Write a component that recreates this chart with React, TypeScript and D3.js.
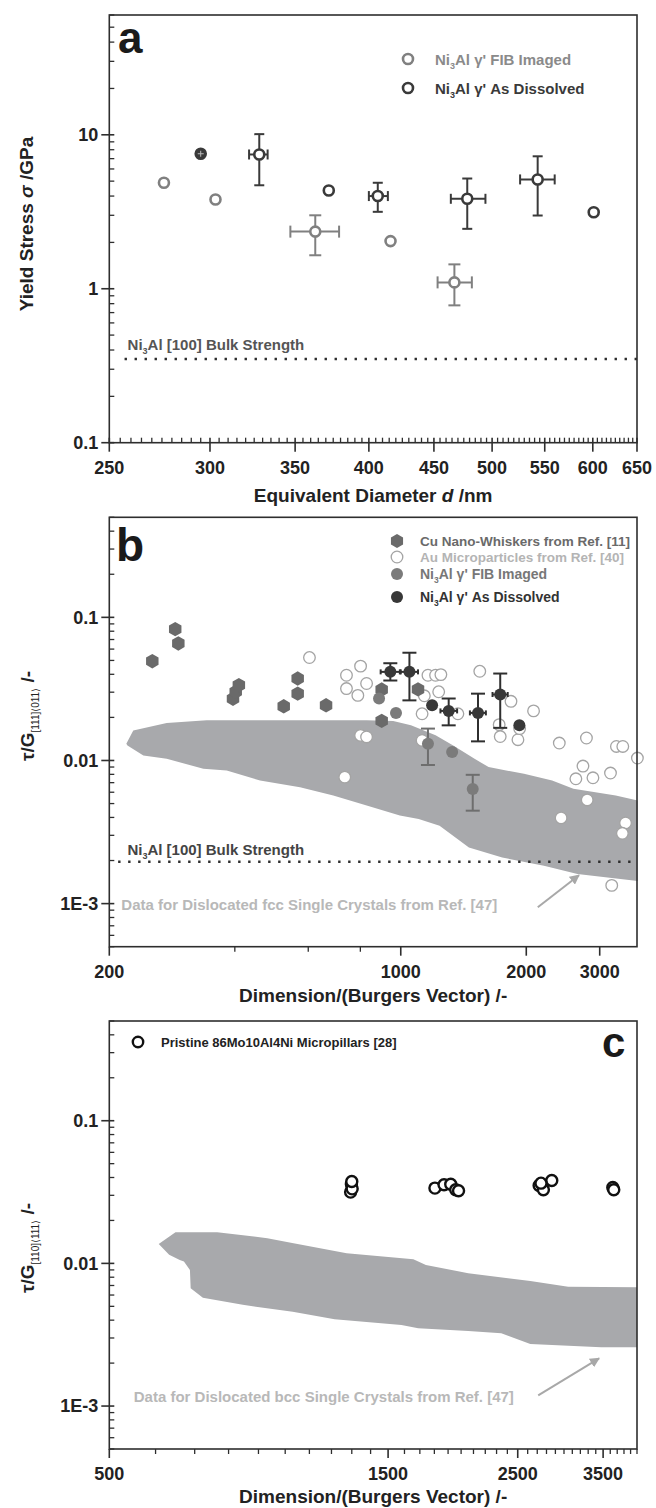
import React from "react";
import * as d3 from "d3";

const FONT = "'Liberation Sans', Arial, Helvetica, sans-serif";
const INK = "#2e2e2e";

// ---------- panel a: yield stress vs diameter ----------
const aXTicks = [250, 300, 350, 400, 450, 500, 550, 600, 650];
const aYTicks = [0.1, 1, 10];
const aYTickLabels = ["0.1", "1", "10"];

const aFibX = [276, 303, 363, 416, 467];
const aFibY = [4.88, 3.8, 2.35, 2.04, 1.1];
const aFibXLo = [null, null, 347, null, 453];
const aFibXHi = [null, null, 379, null, 482];
const aFibYLo = [null, null, 1.65, null, 0.78];
const aFibYHi = [null, null, 3.0, null, 1.44];

const aDisX = [295, 328, 372, 406.5, 478, 543, 601];
const aDisY = [7.53, 7.45, 4.35, 4.0, 3.84, 5.13, 3.14];
const aDisXLo = [null, 322, null, 400, 464, 526, null];
const aDisXHi = [null, 333, null, 414, 494, 560, null];
const aDisYLo = [null, 4.7, null, 3.16, 2.45, 2.99, null];
const aDisYHi = [null, 10.1, null, 4.88, 5.2, 7.25, null];

const aBulk = 0.35;

// ---------- panel b: fcc ----------
const bXTicks = [200, 1000, 2000, 3000];
const bXMinor = [400, 600, 800];
const bYTicks = [0.001, 0.01, 0.1];
const bYTickLabels = ["1E-3", "0.01", "0.1"];

const bCuX = [253.6, 287.8, 292.8, 396, 402, 409, 524, 566, 566, 662, 900, 900, 1100];
const bCuY = [0.0494, 0.0828, 0.0657, 0.027, 0.0302, 0.0336, 0.0239, 0.0374, 0.0293, 0.0243, 0.0313, 0.0189, 0.0314];

const bAuX = [604, 741, 801, 828, 741, 789, 801, 828, 734, 1162, 1212, 1248, 1233, 1139, 1125, 1125, 1371, 1547,
  1838, 1722, 1732, 1910, 1928, 2082, 2400, 2788, 2630, 2735, 2890, 3184, 3290, 3408, 3694, 2424, 2800, 3460, 3400, 3206];
const bAuY = [0.0524, 0.0394, 0.0456, 0.0345, 0.0318, 0.0285, 0.01497, 0.0146, 0.00765, 0.0394, 0.0394, 0.0398,
  0.0302, 0.0283, 0.0212, 0.0138, 0.0212, 0.042, 0.0259, 0.0178, 0.0147, 0.01397, 0.0167, 0.0222, 0.01324, 0.01436,
  0.00745, 0.00914, 0.00757, 0.00817, 0.01253, 0.01253, 0.0104, 0.00397, 0.0053, 0.00366, 0.0031, 0.00134];

const bFibX = [887, 974, 1162, 1328, 1488];
const bFibY = [0.0271, 0.0215, 0.0131, 0.01145, 0.00633];
const bFibYLo = [null, null, 0.0093, null, 0.00446];
const bFibYHi = [null, null, 0.0167, null, 0.00794];

const bDisX = [944, 1049, 1189, 1303, 1532, 1732, 1925];
const bDisY = [0.0416, 0.0416, 0.0243, 0.0222, 0.0215, 0.0289, 0.0176];
const bDisYLo = [0.0362, 0.0263, null, 0.0176, 0.0136, 0.0169, null];
const bDisYHi = [0.0478, 0.0566, null, 0.0271, 0.0293, 0.0405, null];
const bDisXLo = [895, 1000, null, 1245, 1465, 1660, null];
const bDisXHi = [995, 1100, null, 1365, 1600, 1805, null];

const bBandUpX = [219.7, 228.3, 274.6, 342.5, 828, 959, 1058, 1212, 1336, 1503, 1624, 1975, 2307, 2594, 3278, 3700];
const bBandUpY = [0.0131, 0.0162, 0.0183, 0.0191, 0.0191, 0.0189, 0.0176, 0.015, 0.01274, 0.01028, 0.00899, 0.00807,
  0.00724, 0.00634, 0.00569, 0.00525];
const bBandLoX = [221.1, 241.4, 274.6, 336.2, 382.5, 459.8, 573.3, 688.9, 828.4, 995, 1104, 1239, 1457, 1751, 2205, 2653, 3700];
const bBandLoY = [0.01274, 0.01084, 0.01028, 0.00875, 0.00851, 0.00724, 0.00651, 0.00569, 0.00484, 0.00412, 0.0039,
  0.0035, 0.00247, 0.0021, 0.00184, 0.00161, 0.00144];

const bBulk = 0.00196;

// ---------- panel c: bcc ----------
const cXTicks = [500, 1500, 2500, 3500];
const cYTicks = [0.001, 0.01, 0.1];
const cYTickLabels = ["1E-3", "0.01", "0.1"];

const cMoX = [1294, 1298, 1302, 1300, 1804, 1870, 1920, 1958, 1980, 2720, 2766, 2859, 2740, 3636, 3650];
const cMoY = [0.0316, 0.0359, 0.0333, 0.0375, 0.0337, 0.0356, 0.0359, 0.0328, 0.0323, 0.0352, 0.0328, 0.0381, 0.0365, 0.034, 0.0328];

const cBandUpX = [607.5, 649, 765, 932, 1028, 1274, 1657, 1741, 2057, 2627, 3050, 4000];
const cBandUpY = [0.0137, 0.01656, 0.01656, 0.01503, 0.01387, 0.0118, 0.0107, 0.00976, 0.00853, 0.00754, 0.00687, 0.00681];
const cBandLoX = [633, 660, 671, 687, 689, 723, 846, 1030, 1215, 1581, 1689, 2057, 2343, 2627, 3473, 4000];
const cBandLoY = [0.01148, 0.01058, 0.0103, 0.009, 0.0067, 0.00575, 0.00512, 0.00459, 0.00406, 0.0037, 0.00351,
  0.00336, 0.00324, 0.00272, 0.00258, 0.00258];

// ---------- layout ----------
const L = 109.3, R = 637;
const pa = { top: 15, bottom: 442.7 };
const pb = { top: 517.3, bottom: 946.7 };
const pc = { top: 1021, bottom: 1449 };

const xa = d3.scaleLog().domain([250, 650]).range([L, R]);
const ya = d3.scaleLog().domain([0.1, 60]).range([pa.bottom, pa.top]);
const xb = d3.scaleLog().domain([200, 3686]).range([L, R]);
const yb = d3.scaleLog().domain([5e-4, 0.5]).range([pb.bottom, pb.top]);
const xc = d3.scaleLog().domain([500, 4000]).range([L, R]);
const yc = d3.scaleLog().domain([5e-4, 0.5]).range([pc.bottom, pc.top]);

function logMinors(lo, hi) {
  const out = [];
  for (let e = -5; e <= 5; e++) {
    for (let k = 2; k <= 9; k++) {
      const v = k * Math.pow(10, e);
      if (v >= lo * 0.999 && v <= hi * 1.001) out.push(v);
    }
  }
  return out;
}

const hexPath = (r) => {
  const pts = d3.range(6).map(i => {
    const a = (Math.PI / 3) * i - Math.PI / 2;
    return [r * Math.cos(a), r * Math.sin(a)];
  });
  return "M" + pts.map(p => p.join(",")).join("L") + "Z";
};

function Frame({ p }) {
  return <rect x={L} y={p.top} width={R - L} height={p.bottom - p.top} fill="none" stroke={INK} strokeWidth={1.6} />;
}

function YAxis({ y, ticks, labels, minors }) {
  return (
    <g>
      {minors.map((v, i) => <line key={"m" + i} x1={L} x2={L + 5} y1={y(v)} y2={y(v)} stroke={INK} strokeWidth={1.3} />)}
      {ticks.map((v, i) => (
        <g key={i}>
          <line x1={L - 8} x2={L + 5} y1={y(v)} y2={y(v)} stroke={INK} strokeWidth={1.6} />
          <text x={L - 11} y={y(v)} dy="0.35em" textAnchor="end" fontSize={18} fontWeight="bold" fill="#222">{labels[i]}</text>
        </g>
      ))}
    </g>
  );
}

function XAxis({ x, base, ticks, labels, minors, minorIn }) {
  return (
    <g>
      {minors.map((v, i) => (
        <line key={"m" + i} x1={x(v)} x2={x(v)} y1={base} y2={minorIn ? base - 5 : base + 5} stroke={INK} strokeWidth={1.3} />
      ))}
      {ticks.map((v, i) => (
        <g key={i}>
          <line x1={x(v)} x2={x(v)} y1={minorIn ? base - 5 : base} y2={base + 9} stroke={INK} strokeWidth={1.6} />
          <text x={x(v)} y={base + 31} textAnchor="middle" fontSize={18} fontWeight="bold" fill="#222">{labels[i]}</text>
        </g>
      ))}
    </g>
  );
}

function ErrBars({ x, y, xs, ys, xLo, xHi, yLo, yHi, color, cap = 6, capX = 6, w = 2 }) {
  return (
    <g stroke={color} strokeWidth={w} fill="none">
      {xs.map((xv, i) => (
        <g key={i}>
          {yLo && yLo[i] != null && (
            <>
              <line x1={x(xv)} x2={x(xv)} y1={y(yLo[i])} y2={y(yHi[i])} />
              <line x1={x(xv) - cap} x2={x(xv) + cap} y1={y(yLo[i])} y2={y(yLo[i])} />
              <line x1={x(xv) - cap} x2={x(xv) + cap} y1={y(yHi[i])} y2={y(yHi[i])} />
            </>
          )}
          {xLo && xLo[i] != null && (
            <>
              <line x1={x(xLo[i])} x2={x(xHi[i])} y1={y(ys[i])} y2={y(ys[i])} />
              <line x1={x(xLo[i])} x2={x(xLo[i])} y1={y(ys[i]) - capX} y2={y(ys[i]) + capX} />
              <line x1={x(xHi[i])} x2={x(xHi[i])} y1={y(ys[i]) - capX} y2={y(ys[i]) + capX} />
            </>
          )}
        </g>
      ))}
    </g>
  );
}

function bandPath(x, y, ux, uy, lx, ly) {
  const pts = ux.map((v, i) => [x(v), y(uy[i])]);
  for (let i = lx.length - 1; i >= 0; i--) pts.push([x(lx[i]), y(ly[i])]);
  return d3.line()(pts) + "Z";
}

const Sub = ({ children, size = 10 }) => <tspan fontSize={size} dy={4}>{children}</tspan>;

export default function App() {
  const aMinorX = d3.range(255, 650, 5).filter(v => v % 50 !== 0);
  const cMinorX = d3.range(600, 4001, 100).filter(v => !cXTicks.includes(v));

  return (
    <svg width={656} height={1508} style={{ position: "absolute", left: 0, top: 0, background: "#fff" }} fontFamily={FONT}>
      <defs>
        <marker id="arr" viewBox="0 0 10 10" refX="9" refY="5" markerWidth="5" markerHeight="5" orient="auto">
          <path d="M0,0L10,5L0,10Z" fill="#a8a8a8" />
        </marker>
      </defs>

      {/* ================= panel a ================= */}
      <line x1={xa(257)} x2={R} y1={ya(aBulk)} y2={ya(aBulk)} stroke={INK} strokeWidth={2.4} strokeDasharray="2.4 7.6" />
      <text x={xa(258.4)} y={ya(0.398)} fontSize={15} fontWeight="bold" fill="#555">
        Ni<Sub size={9}>3</Sub><tspan dy={-4}>Al [100] Bulk Strength</tspan>
      </text>
      <ErrBars x={xa} y={ya} xs={aFibX} ys={aFibY} xLo={aFibXLo} xHi={aFibXHi} yLo={aFibYLo} yHi={aFibYHi} color="#808080" />
      <ErrBars x={xa} y={ya} xs={aDisX} ys={aDisY} xLo={aDisXLo} xHi={aDisXHi} yLo={aDisYLo} yHi={aDisYHi} color="#3a3a3a" cap={5} capX={5} />
      {aFibX.map((v, i) => <circle key={i} cx={xa(v)} cy={ya(aFibY[i])} r={5} fill="#fff" stroke="#808080" strokeWidth={2.6} />)}
      {aDisX.map((v, i) => (
        <circle key={i} cx={xa(v)} cy={ya(aDisY[i])} r={5} fill={i === 0 ? "#3a3a3a" : "#fff"} stroke="#3a3a3a" strokeWidth={2.6} />
      ))}
      <line x1={xa(aDisX[0]) - 3} x2={xa(aDisX[0]) + 3} y1={ya(aDisY[0])} y2={ya(aDisY[0])} stroke="#bbb" strokeWidth={1} />
      <line x1={xa(aDisX[0])} x2={xa(aDisX[0])} y1={ya(aDisY[0]) - 3} y2={ya(aDisY[0]) + 3} stroke="#bbb" strokeWidth={1} />
      <Frame p={pa} />
      <YAxis y={ya} ticks={aYTicks} labels={aYTickLabels} minors={logMinors(0.1, 60)} />
      <XAxis x={xa} base={pa.bottom} ticks={aXTicks} labels={aXTicks.map(String)} minors={aMinorX} minorIn />
      <text x={118} y={53} fontSize={44} fontWeight="bold" fill="#1a1a1a">a</text>
      <circle cx={408} cy={59} r={5} fill="#fff" stroke="#808080" strokeWidth={2.6} />
      <text x={435} y={64.5} fontSize={15} fontWeight="bold" fill="#8a8a8a">
        Ni<Sub size={9}>3</Sub><tspan dy={-4}>Al γ' FIB Imaged</tspan>
      </text>
      <circle cx={408} cy={88} r={5} fill="#fff" stroke="#3a3a3a" strokeWidth={2.6} />
      <text x={435} y={93.5} fontSize={15} fontWeight="bold" fill="#3a3a3a">
        Ni<Sub size={9}>3</Sub><tspan dy={-4}>Al γ' As Dissolved</tspan>
      </text>
      <text transform={`translate(33,${224}) rotate(-90)`} textAnchor="middle" fontSize={19} fontWeight="bold" fill="#222">
        Yield Stress <tspan fontStyle="italic">σ</tspan> /GPa
      </text>
      <text x={(L + R) / 2} y={502} textAnchor="middle" fontSize={19} fontWeight="bold" fill="#222">
        Equivalent Diameter <tspan fontStyle="italic">d</tspan> /nm
      </text>

      {/* ================= panel b ================= */}
      <path d={bandPath(xb, yb, bBandUpX, bBandUpY, bBandLoX, bBandLoY)} fill="#a8a9ac" />
      <line x1={xb(210)} x2={R} y1={yb(bBulk)} y2={yb(bBulk)} stroke={INK} strokeWidth={2.4} strokeDasharray="2.4 7.6" />
      <text x={xb(221)} y={yb(0.00218)} fontSize={15} fontWeight="bold" fill="#444">
        Ni<Sub size={9}>3</Sub><tspan dy={-4}>Al [100] Bulk Strength</tspan>
      </text>
      {bAuX.map((v, i) => <circle key={i} cx={xb(v)} cy={yb(bAuY[i])} r={5.8} fill="#fff" stroke="#a4a4a4" strokeWidth={1.3} />)}
      {bCuX.map((v, i) => (
        <path key={i} d={hexPath(7.2)} transform={`translate(${xb(v)},${yb(bCuY[i])})`} fill="#6a6a6a" />
      ))}
      <ErrBars x={xb} y={yb} xs={bFibX} ys={bFibY} yLo={bFibYLo} yHi={bFibYHi} color="#6e6e6e" cap={7} />
      {bFibX.map((v, i) => <circle key={i} cx={xb(v)} cy={yb(bFibY[i])} r={6} fill="#7b7b7b" />)}
      <ErrBars x={xb} y={yb} xs={bDisX} ys={bDisY} xLo={bDisXLo} xHi={bDisXHi} yLo={bDisYLo} yHi={bDisYHi} color="#2f2f2f" cap={7} capX={2.5} />
      {bDisX.map((v, i) => <circle key={i} cx={xb(v)} cy={yb(bDisY[i])} r={6} fill="#383838" />)}
      <line x1={xb(2131)} y1={yb(0.000944)} x2={xb(2676)} y2={yb(0.00158)} stroke="#a8a8a8" strokeWidth={2} markerEnd="url(#arr)" />
      <text x={xb(213.7)} y={yb(0.0009)} fontSize={15} fontWeight="bold" fill="#b8b8b8">
        Data for Dislocated fcc Single Crystals from Ref. [47]
      </text>
      <Frame p={pb} />
      <YAxis y={yb} ticks={bYTicks} labels={bYTickLabels} minors={logMinors(5e-4, 0.5)} />
      <XAxis x={xb} base={pb.bottom} ticks={bXTicks} labels={bXTicks.map(String)} minors={bXMinor} />
      <text x={116} y={561} fontSize={46} fontWeight="bold" fill="#1a1a1a">b</text>
      <path d={hexPath(7)} transform="translate(397,541)" fill="#6a6a6a" />
      <text x={420} y={546} fontSize={13.5} fontWeight="bold" fill="#6a6a6a">Cu Nano-Whiskers from Ref.  [11]</text>
      <circle cx={397} cy={557} r={5.8} fill="#fff" stroke="#a4a4a4" strokeWidth={1.3} />
      <text x={420} y={562} fontSize={13.5} fontWeight="bold" fill="#b4b4b4">Au Microparticles from Ref.  [40]</text>
      <circle cx={397} cy={574} r={6} fill="#7b7b7b" />
      <text x={420} y={579} fontSize={14} fontWeight="bold" fill="#777">
        Ni<Sub size={8.5}>3</Sub><tspan dy={-4}>Al γ' FIB Imaged</tspan>
      </text>
      <circle cx={397} cy={597} r={6} fill="#383838" />
      <text x={420} y={602} fontSize={14} fontWeight="bold" fill="#333">
        Ni<Sub size={8.5}>3</Sub><tspan dy={-4}>Al γ' As Dissolved</tspan>
      </text>
      <text transform={`translate(34,${716}) rotate(-90)`} textAnchor="middle" fontSize={19} fontWeight="bold" fill="#222">
        τ/G<tspan fontSize={10} dy={5} fontWeight="normal">[111]⟨011⟩</tspan><tspan dy={-5}> /-</tspan>
      </text>
      <text x={(L + R) / 2} y={1002} textAnchor="middle" fontSize={19} fontWeight="bold" fill="#222">
        Dimension/(Burgers Vector) /-
      </text>

      {/* ================= panel c ================= */}
      <path d={bandPath(xc, yc, cBandUpX, cBandUpY, cBandLoX, cBandLoY)} fill="#a8a9ac" />
      {cMoX.map((v, i) => <circle key={i} cx={xc(v)} cy={yc(cMoY[i])} r={5.5} fill="#fff" stroke="#111" strokeWidth={2.4} />)}
      <line x1={xc(2710)} y1={yc(0.00119)} x2={xc(3445)} y2={yc(0.00216)} stroke="#a8a8a8" strokeWidth={2} markerEnd="url(#arr)" />
      <text x={xc(550.6)} y={yc(0.001067)} fontSize={15} fontWeight="bold" fill="#b8b8b8">
        Data for Dislocated bcc Single Crystals from Ref. [47]
      </text>
      <Frame p={pc} />
      <YAxis y={yc} ticks={cYTicks} labels={cYTickLabels} minors={logMinors(5e-4, 0.5)} />
      <XAxis x={xc} base={pc.bottom} ticks={cXTicks} labels={cXTicks.map(String)} minors={cMinorX} />
      <text x={602} y={1057} fontSize={42} fontWeight="bold" fill="#1a1a1a">c</text>
      <circle cx={138} cy={1042} r={5.2} fill="#fff" stroke="#111" strokeWidth={2.4} />
      <text x={161} y={1046.5} fontSize={13} fontWeight="bold" fill="#222">Pristine 86Mo10Al4Ni Micropillars [28]</text>
      <text transform={`translate(34,${1248}) rotate(-90)`} textAnchor="middle" fontSize={19} fontWeight="bold" fill="#222">
        τ/G<tspan fontSize={10} dy={5} fontWeight="normal">[110]⟨111⟩</tspan><tspan dy={-5}> /-</tspan>
      </text>
      <text x={(L + R) / 2} y={1503} textAnchor="middle" fontSize={19} fontWeight="bold" fill="#222">
        Dimension/(Burgers Vector) /-
      </text>
    </svg>
  );
}
